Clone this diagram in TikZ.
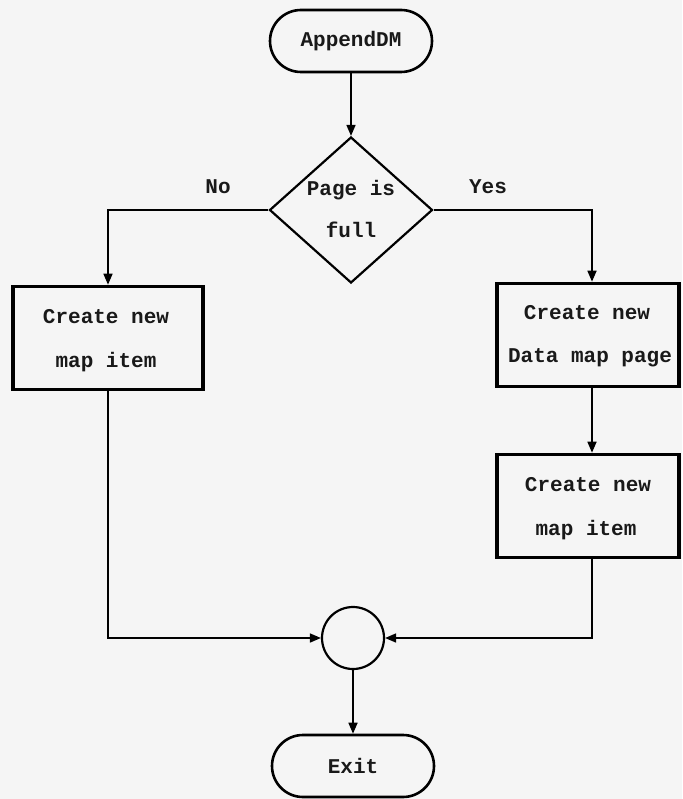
\documentclass[tikz,border=0pt]{standalone}
\usepackage{fontspec}
\setmonofont{Liberation Mono}
\usetikzlibrary{shapes.geometric,shapes.misc,arrows.meta}
\begin{document}
\begin{tikzpicture}[x=1pt,y=-1pt,
  every node/.style={font=\ttfamily\bfseries\fontsize{21}{24}\selectfont, text=black!90},
  terminal/.style={draw, line width=2.6pt, rounded rectangle, minimum width=162pt, minimum height=62pt, inner sep=0pt},
  process/.style={draw, line width=3.6pt, rectangle, minimum height=103pt, inner sep=0pt, align=center},
  decision/.style={draw, line width=2.2pt, diamond, minimum width=163pt, minimum height=146pt, inner sep=0pt, align=center},
  junction/.style={draw, line width=2.2pt, circle, minimum size=62pt, inner sep=0pt},
  flow/.style={line width=1.6pt, -{Triangle[length=11pt,width=9pt]}},
  lbl/.style={inner sep=0pt}]
  \useasboundingbox[fill=black!4] (0,0) rectangle (682,799);

  % terminals
  \node[terminal] (start) at (351,41) {AppendDM};
  \node[terminal] (exit)  at (353,766) {Exit};

  % decision
  \node[decision] (full) at (351,210) {};
  \node[lbl] (q1) at (351,190) {Page is};
  \node[lbl] (q2) at (351,230) {full};

  % processes
  \node[process, minimum width=190pt] (itemL) at (108,338) {};
  \node[lbl] (tL1) at (106,317) {Create new};
  \node[lbl] (tL2) at (106,362) {map item};

  \node[process, minimum width=182pt] (page) at (588,335) {};
  \node[lbl] (tP1) at (587,313) {Create new};
  \node[lbl] (tP2) at (590,358) {Data map page};

  \node[process, minimum width=182pt] (itemR) at (588,506) {};
  \node[lbl] (tR1) at (588,485) {Create new};
  \node[lbl] (tR2) at (586,530) {map item};

  % merge point
  \node[junction] (merge) at (353,638) {};

  % branch labels
  \node[lbl] (no)  at (218,187) {No};
  \node[lbl] (yes) at (488,187) {Yes};

  % connectors
  \draw[flow] (start.south) -- (full.north);
  \draw[flow] (full.west) -| (itemL.north);
  \draw[flow] (full.east) -| (page.north -| 592,0);
  \draw[flow] (page.south -| 592,0) -- (itemR.north -| 592,0);
  \draw[flow] (itemL.south) |- (merge.west);
  \draw[flow] (itemR.south -| 592,0) |- (merge.east);
  \draw[flow] (merge.south) -- (exit.north);
\end{tikzpicture}
\end{document}
